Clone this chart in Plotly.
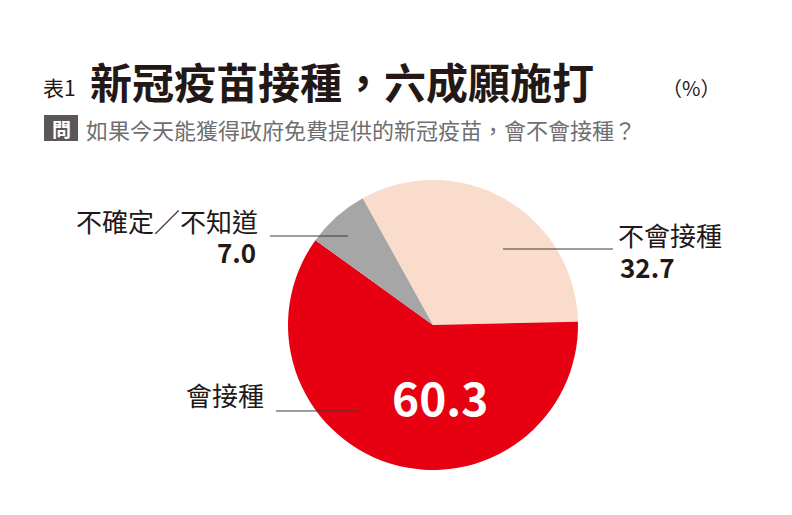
import plotly.graph_objects as go

W, H = 792, 515
labels = ["不會接種", "會接種", "不確定／不知道"]
values = [32.7, 60.3, 7.0]
colors = ["#f9dccb", "#e60012", "#a6a6a6"]
FONT = "Noto Sans CJK TC"


def px(x, y):
    return x / W, 1 - y / H


fig = go.Figure(go.Pie(
    labels=labels, values=values, sort=False, direction="clockwise", rotation=-29,
    marker=dict(colors=colors, line=dict(width=0)), textinfo="none", hoverinfo="label+value",
    domain=dict(x=[280 / W, 570 / W], y=[1 - 462 / H, 1 - 172 / H]), showlegend=False,
))

ann = []


def text(x, y, s, size, color="#231815", anchor="left", bold=False):
    xx, yy = px(x, y)
    ann.append(dict(x=xx, y=yy, xref="paper", yref="paper", xanchor=anchor, yanchor="middle",
                    text=f"<b>{s}</b>" if bold else s, showarrow=False,
                    font=dict(family=FONT, size=size, color=color)))


text(33, 79, "表1", 21)
text(80, 73, "新冠疫苗接種，六成願施打", 42, bold=True)
text(652, 80, "（%）", 20)
text(76, 121, "如果今天能獲得政府免費提供的新冠疫苗，會不會接種？", 22, color="#6f6f6f")
text(53, 120, "問", 19, color="white", anchor="center", bold=True)
text(252, 212, "不確定／不知道", 26, anchor="right")
text(250, 244, f"{values[2]:.1f}", 26, anchor="right", bold=True)
text(608, 226, "不會接種", 26)
text(610, 258, f"{values[0]:.1f}", 26, bold=True)
text(258, 386, "會接種", 26, anchor="right")
text(432, 388, f"{values[1]:.1f}", 46, color="white", anchor="center", bold=True)

shapes = [
    dict(type="rect", xref="paper", yref="paper", x0=36 / W, x1=70 / W, y0=1 - 133 / H, y1=1 - 107 / H,
         fillcolor="#595757", line=dict(width=0), layer="below"),
]
for (x0, y0, x1, y1) in [(262, 228, 340, 228), (495, 241, 605, 241), (268, 403, 350, 403)]:
    a, b = px(x0, y0)
    c, d = px(x1, y1)
    shapes.append(dict(type="line", xref="paper", yref="paper", x0=a, y0=b, x1=c, y1=d,
                       line=dict(color="#3e3a39", width=1)))

fig.update_layout(width=W, height=H, margin=dict(l=0, r=0, t=0, b=0),
                  paper_bgcolor="white", plot_bgcolor="white",
                  annotations=ann, shapes=shapes)
fig.write_html("out.html")
